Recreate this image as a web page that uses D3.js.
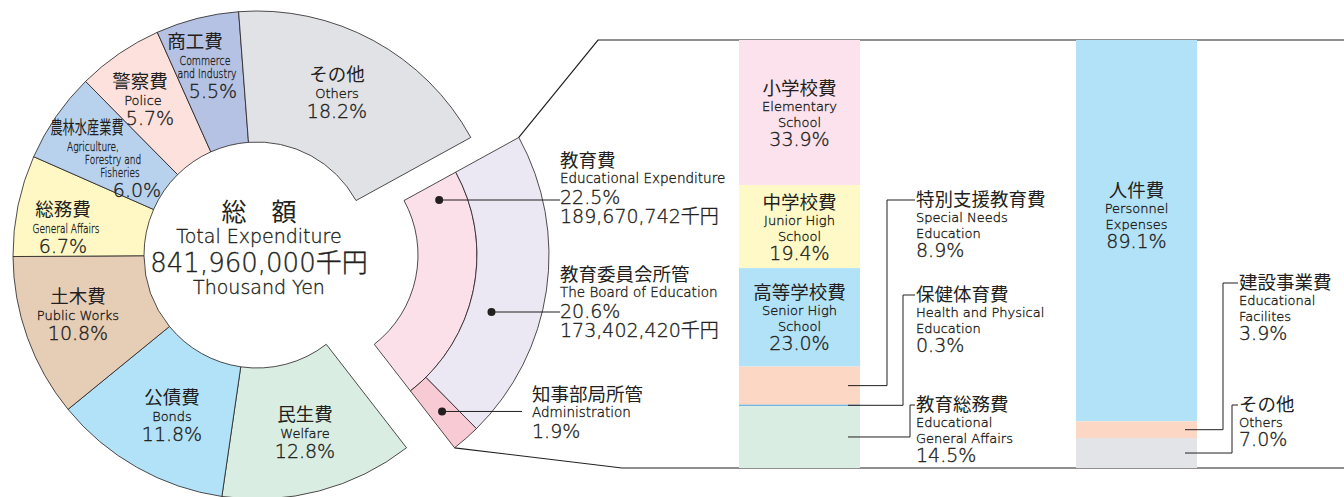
<!DOCTYPE html>
<html>
<head>
<meta charset="utf-8">
<script src="https://cdn.jsdelivr.net/npm/d3@7"></script>
<style>
body{margin:0;background:#fff}
svg text{fill:#231f20;font-family:"DejaVu Sans","Noto Sans CJK JP",sans-serif;font-weight:200;stroke:#231f20;stroke-width:0.35px}
svg text.ja{font-family:"Noto Sans CJK JP",sans-serif;font-weight:400;stroke:none}
</style>
</head>
<body>
<svg id="chart" width="1344" height="497"></svg>
<script>
// ---- data ----
const donutJa  = ['教育費','民生費','公債費','土木費','総務費','農林水産業費','警察費','商工費','その他'];
const donutEn  = [['Educational Expenditure'],['Welfare'],['Bonds'],['Public Works'],['General Affairs'],
                  ['Agriculture,','Forestry and','Fisheries'],['Police'],['Commerce','and Industry'],['Others']];
const donutPct = [22.5,12.8,11.8,10.8,6.7,6.0,5.7,5.5,18.2];
const totalYen = 841960000;

const eduYen  = 189670742;
const eduJa   = ['教育委員会所管','知事部局所管'];
const eduEn   = ['The Board of Education','Administration'];
const eduPct  = [20.6,1.9];
const eduSubYen = [173402420, null];

const schoolJa  = ['小学校費','中学校費','高等学校費','特別支援教育費','保健体育費','教育総務費'];
const schoolEn  = [['Elementary','School'],['Junior High','School'],['Senior High','School'],
                   ['Special Needs','Education'],['Health and Physical','Education'],['Educational','General Affairs']];
const schoolPct = [33.9,19.4,23.0,8.9,0.3,14.5];

const boardJa  = ['人件費','建設事業費','その他'];
const boardEn  = [['Personnel','Expenses'],['Educational','Facilites'],['Others']];
const boardPct = [89.1,3.9,7.0];

// ---- colours ----
const donutColors  = ['#fbdfe9','#d9ede2','#b2e2f8','#e6cdb6','#fff8c5','#b8d2ee','#fde1dd','#b5c2e3','#e1e2e6'];
const eduColors    = ['#ebe8f3','#f8cad4'];
const schoolColors = ['#fbe2ec','#fff9c7','#b2e2f8','#fcd7c3','#6aaede','#d9ede2'];
const boardColors  = ['#b2e2f8','#fcd7c3','#e3e4e8'];

// ---- layout ----
const deg = Math.PI / 180;
const cx = 257, cy = 255, rIn = 113, rMid = 172, rOut = 244;
const explodeX = 48;
const stroke = '#231f20';

// label anchors for the donut (x per line, title baseline y); sx = horizontal squeeze
const donutLabelPos = [
  null,
  {x:[305,305,305], y:421},
  {x:[172,172,172], y:404},
  {x:[78,78,78], y:303},
  {x:[63,66,63], y:216, sx:0.72},
  {x:[87,93,113,120,137], y:134, sx:0.72, jsx:0.66},
  {x:[140,143,150], y:88},
  {x:[195,205,207,213], y:48, sx:0.75},
  {x:[337,337,337], y:81}
];

const svg = d3.select('#chart');

function fmt(n){ return d3.format(',')(n); }
function squeeze(sel, x, s){
  if (s && s !== 1) sel.attr('transform', `translate(${x},0) scale(${s},1) translate(${-x},0)`);
}

// ---- donut ----
const pie = d3.pie().sort(null).value(d => d)
  .startAngle(61.2 * deg).endAngle(421.2 * deg);
const arcs = pie(donutPct);
const arc = d3.arc().innerRadius(rIn).outerRadius(rOut);

const donut = svg.append('g').attr('transform', `translate(${cx},${cy})`);
donut.selectAll('path')
  .data(arcs.slice(1))
  .join('path')
  .attr('d', arc)
  .attr('fill', d => donutColors[d.index])
  .attr('stroke', stroke)
  .attr('stroke-width', 0.8);

function labelBlock(g, x, y, ja, en, pct, opt){
  opt = opt || {};
  const xs = Array.isArray(x) ? x : [x];
  const xi = i => xs[Math.min(i, xs.length - 1)];
  const anchor = opt.anchor || 'middle';
  const enFirst = opt.enFirst || 17, enStep = opt.enStep || 13, pctGap = opt.pctGap || 20;
  const t0 = g.append('text').attr('class','ja')
    .attr('x', xi(0)).attr('y', y).attr('text-anchor', anchor)
    .attr('font-size', 18.5)
    .text(ja);
  squeeze(t0, xi(0), opt.jsx);
  let yy = y + enFirst;
  en.forEach((t, i) => {
    const te = g.append('text')
      .attr('x', xi(i + 1)).attr('y', yy).attr('text-anchor', anchor)
      .attr('font-size', opt.sx ? 12.5 : 13)
      .text(t);
    squeeze(te, xi(i + 1), opt.sx);
    if (i < en.length - 1) yy += enStep;
  });
  yy += pctGap;
  g.append('text')
    .attr('x', xi(en.length + 1)).attr('y', yy).attr('text-anchor', anchor)
    .attr('font-size', 19)
    .text(d3.format('.1f')(pct) + '%');
  return yy;
}

const labels = svg.append('g');
arcs.forEach((d, i) => {
  const p = donutLabelPos[i];
  if (!p) return;
  labelBlock(labels, p.x, p.y, donutJa[i], donutEn[i], donutPct[i], {sx: p.sx, jsx: p.jsx});
});

// centre text
const centre = svg.append('g');
centre.append('text').attr('class','ja').attr('x', 259).attr('y', 221)
  .attr('text-anchor','middle').attr('font-size', 25).attr('font-weight', 500).text('総　額');
centre.append('text').attr('x', 259).attr('y', 243)
  .attr('text-anchor','middle').attr('font-size', 19).text('Total Expenditure');
centre.append('text').attr('x', 259).attr('y', 272)
  .attr('text-anchor','middle').attr('font-size', 26).text(fmt(totalYen) + '千円');
centre.append('text').attr('x', 259).attr('y', 294)
  .attr('text-anchor','middle').attr('font-size', 19).text('Thousand Yen');

// ---- exploded education slice ----
const edu = arcs[0];
const ex = cx + explodeX;
const exG = svg.append('g').attr('transform', `translate(${ex},${cy})`);

exG.append('path')
  .attr('d', d3.arc()({innerRadius: rIn, outerRadius: rMid, startAngle: edu.startAngle, endAngle: edu.endAngle}))
  .attr('fill', donutColors[0]).attr('stroke', stroke).attr('stroke-width', 0.8);

const subAngle = d3.scaleLinear().domain([0, d3.sum(eduPct)]).range([edu.startAngle, edu.endAngle]);
const eduCum = [0, ...d3.cumsum(eduPct)];
const eduArcs = eduPct.map((v, i) => ({
  innerRadius: rMid, outerRadius: rOut,
  startAngle: subAngle(eduCum[i]), endAngle: subAngle(eduCum[i + 1])
}));
exG.selectAll('path.sub')
  .data(eduArcs)
  .join('path')
  .attr('class','sub')
  .attr('d', d => d3.arc()(d))
  .attr('fill', (d, i) => eduColors[i])
  .attr('stroke', stroke).attr('stroke-width', 0.8);

// dots + leaders
function polar(r, a){ return [ex + r * Math.sin(a), cy - r * Math.cos(a)]; }
function dotAtY(r, y){ return [ex + Math.sqrt(r * r - (y - cy) * (y - cy)), y]; }

const eduDot   = dotAtY(145, 200);
const boardDot = dotAtY(195, 312);
const adminC   = d3.arc().centroid(eduArcs[1]);
const adminDot = [ex + adminC[0], cy + adminC[1]];

const lead = svg.append('g');
[[eduDot, 560], [boardDot, 560], [adminDot, 522]].forEach(([p, x2]) => {
  lead.append('line').attr('x1', p[0]).attr('y1', p[1]).attr('x2', x2).attr('y2', p[1])
    .attr('stroke', stroke).attr('stroke-width', 1);
  lead.append('circle').attr('cx', p[0]).attr('cy', p[1]).attr('r', 4).attr('fill', stroke);
});

function midBlock(x, y, ja, en, pct, yen){
  const g = svg.append('g');
  g.append('text').attr('class','ja').attr('x', x).attr('y', y).attr('font-size', 18.5).text(ja);
  g.append('text').attr('x', x).attr('y', y + 16).attr('font-size', 13.5).text(en);
  g.append('text').attr('x', x).attr('y', y + 37).attr('font-size', 19)
    .text(d3.format('.1f')(pct) + '%');
  if (yen) g.append('text').attr('x', x).attr('y', y + 56).attr('font-size', 19)
    .text(fmt(yen) + '千円');
}
midBlock(560, 167, donutJa[0], donutEn[0][0], donutPct[0], eduYen);
midBlock(560, 281, eduJa[0], eduEn[0], eduPct[0], eduSubYen[0]);
midBlock(532, 401, eduJa[1], eduEn[1], eduPct[1], eduSubYen[1]);

// ---- bars ----
const y = d3.scaleLinear().domain([0, 100]).range([40, 468]);

// zoom connector lines
const topCorner = polar(rOut, edu.startAngle);
const botCorner = polar(rOut, edu.endAngle);
svg.append('path')
  .attr('d', d3.line()([topCorner, [598, y(0)], [1344, y(0)]]))
  .attr('fill','none').attr('stroke', stroke).attr('stroke-width', 1.2);
svg.append('path')
  .attr('d', d3.line()([botCorner, [622, y(100)], [1344, y(100)]]))
  .attr('fill','none').attr('stroke', stroke).attr('stroke-width', 1.2);

function drawBar(x0, w, pcts, colors, ja, en, inside, outside){
  const cum = [0, ...d3.cumsum(pcts)];
  const g = svg.append('g');
  g.selectAll('rect')
    .data(pcts)
    .join('rect')
    .attr('x', x0).attr('width', w)
    .attr('y', (d, i) => y(cum[i]))
    .attr('height', (d, i) => y(cum[i + 1]) - y(cum[i]))
    .attr('fill', (d, i) => colors[i]);
  pcts.forEach((v, i) => {
    const mid = (y(cum[i]) + y(cum[i + 1])) / 2;
    if (inside[i] !== undefined) {
      labelBlock(g, x0 + w / 2, mid - 18 + inside[i], ja[i], en[i], v, {enFirst: 16, enStep: 16, pctGap: 19});
    } else {
      const o = outside[i];
      const ly = o.y - 6;
      g.append('path')
        .attr('d', d3.line()([[x0 + w - 12, mid], [o.elbow, mid], [o.elbow, ly], [o.tx - 1, ly]]))
        .attr('fill','none').attr('stroke', stroke).attr('stroke-width', 1);
      labelBlock(g, o.tx, o.y, ja[i], en[i], v, {anchor: 'start', enFirst: 16, enStep: 16, pctGap: 19});
    }
  });
}

drawBar(739, 121, schoolPct, schoolColors, schoolJa, schoolEn,
  [0, 0, 0],
  {3: {y: 206, elbow: 887, tx: 916}, 4: {y: 301, elbow: 903, tx: 916}, 5: {y: 411, elbow: 910, tx: 916}});

drawBar(1076, 121, boardPct, boardColors, boardJa, boardEn,
  [-16],
  {1: {y: 289, elbow: 1223, tx: 1239}, 2: {y: 411, elbow: 1232, tx: 1239}});
</script>
</body>
</html>
